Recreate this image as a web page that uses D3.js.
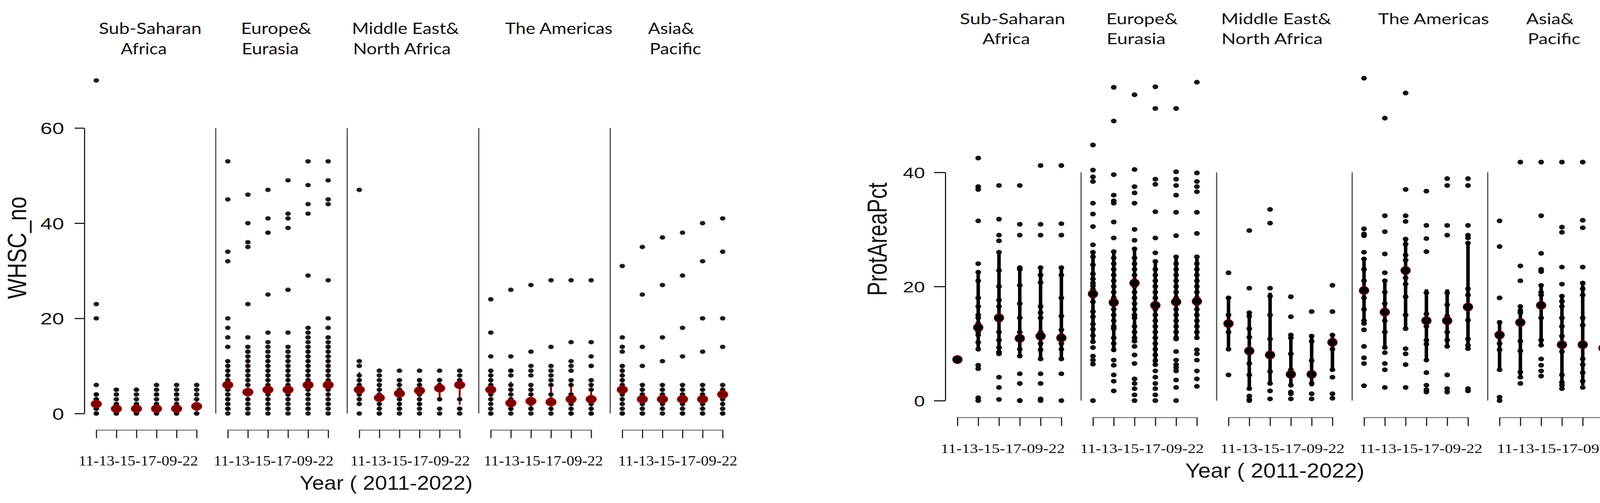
<!DOCTYPE html>
<html><head><meta charset="utf-8">
<script src="https://cdn.jsdelivr.net/npm/d3@7"></script>
<style>html,body{margin:0;padding:0;background:#fff;overflow:hidden;} svg{display:block;}</style>
</head><body>
<svg id="chart" width="4173" height="1287"></svg>
<script>
// ================= DATA =================
const regions = ["Sub-Saharan Africa", "Europe & Eurasia", "Middle East & North Africa", "The Americas", "Asia & Pacific"];
const regionLabelLines = [["Sub-Saharan", "Africa"], ["Europe&", "Eurasia"], ["Middle East&", "North Africa"], ["The Americas"], ["Asia&", "Pacific"]];
const yearCodes = ["11", "13", "15", "17", "09", "22"];
const yearTickLabel = yearCodes.join("-");
const xAxisTitle = "Year ( 2011-2022)";
const whscTitle = "WHSC_no";
const protTitle = "ProtAreaPct";
const whscTicks = [0, 20, 40, 60];
const protTicks = [0, 20, 40];

// WHSC_no : country values, per region, per year column
const whscSSA = [
  [70,23,20,6,4,4,3,3,2,2,2,1,1,1,1,0,0,0],
  [5,5,4,3,2,2,1,1,1,0,0,0],
  [5,5,4,3,2,2,1,1,1,0,0,0],
  [6,5,4,4,3,2,2,1,1,0,0],
  [6,5,4,4,3,2,1,1,0,0],
  [6,5,4,3,2,2,1,1,0,0]
];
const whscEUR = [
  [53,45,34,32,20,18,16,14,11,10,9,8,7,6,6,5,5,4,4,3,3,2,2,1,1,1,0],
  [46,40,36,35,23,16,14,13,13,12,11,10,9,8,7,6,5,4,4,3,2,1,1,1,0],
  [47,41,38,38,25,17,15,14,13,12,11,10,9,8,7,6,5,5,4,3,2,1,1,0],
  [49,42,41,39,26,17,14,13,12,11,10,9,8,7,6,5,5,4,3,2,1,1,0],
  [53,48,44,42,29,18,17,16,15,14,13,12,11,10,9,8,7,6,5,4,3,2,1,1,0],
  [53,49,45,44,28,20,18,16,15,14,13,12,11,10,9,8,7,6,5,4,3,2,2,1,0]
];
const whscMENA = [
  [47,11,10,8,7,6,5,4,3,2,0],
  [9,8,7,6,5,4,3,3,2,1,0,0],
  [9,7,6,5,4,3,2,1,1,0],
  [9,7,6,5,4,3,2,1,0],
  [9,7,6,5,3,1,0],
  [9,8,7,6,6,3,1,1,0]
];
const whscAM = [
  [24,17,12,9,8,7,6,5,4,3,2,1,0,0],
  [26,12,9,9,8,6,5,4,3,2,2,1,1,0],
  [27,13,10,9,8,6,5,4,3,2,1,1,0],
  [28,14,10,9,8,7,6,4,3,2,1,0],
  [28,15,11,10,9,7,6,4,3,2,1,0,0],
  [28,15,12,10,10,7,6,5,3,2,1,0,0]
];
const whscAP = [
  [31,16,14,13,10,9,8,7,6,5,4,3,2,1,0,0],
  [35,25,14,10,6,5,4,3,2,1,0,0],
  [37,27,16,11,6,5,4,3,2,1,0],
  [38,29,18,12,6,5,4,3,2,1,0,0],
  [40,32,20,13,6,5,4,3,2,1,0,0],
  [41,34,20,14,6,5,4,3,2,1,0,0]
];
const whscMean = [[2,1,1,1,1,1.5],[6,4.5,5,5,6,6],[5,3.3,4.2,4.8,5.3,6],[5,2.2,2.6,2.4,3,3],[5,3,3,3,3,4]];
const whscLow  = [[1.5,0,0,0,0,0],[3,2,2,2,3,3],[2,1,1.5,1.5,2.5,1.8],[2,0.5,0.5,0.5,0.5,0.5],[2,1,1,1,1,1.5]];
const whscHigh = [[4,2.3,2.3,2.5,2.5,3],[11,12,12,12,14,15],[8.7,6,7,7.5,7.5,7.5],[9,6.7,6,6.5,7,7],[10,6,6,6,6,6]];

// ProtAreaPct : country values, per region, per year column
const protSSA = [
  [7.2],
  [42.5,37.5,37,31.5,24,22.5,21,18,16.5,15,14.5,13.5,13,12.5,12,11.5,10.2,9,6.2,5.6,0.5,0],
  [37.7,31.8,29,28,26,22.8,20,17.6,16.5,14.5,14,12,10.6,9.3,8.5,8.2,4.1,2.3,0.2],
  [37.7,30.9,29,23.3,23,20.2,17,14.5,12,11,10.5,9,7.8,4.7,3,0,0],
  [41.2,30.9,29,23.3,22,20.7,16.5,15.4,14.5,12,11.3,10,8.9,7.3,4.7,3,0.3,0],
  [41.2,31,29,23.3,22,18,14.8,12.4,11,10,9,7.3,4.7,0]
];
const protEUR = [
  [44.8,40.4,39.2,38.4,34.6,32.7,30.5,27.3,26,25.2,23.8,22.2,21.3,20.6,20.1,19.5,18.8,18.2,17.3,15.6,14.7,13.4,12.5,11.4,10.3,9.3,7.8,7.1,6.4,0],
  [54.9,49,39.6,36,35,34.6,31.3,28.5,26.1,25,24,23,22,21,20,19,18,17.2,17,16,15,14,13,12.6,11,10,8.9,7.1,6.2,4.5,3.4,1.7],
  [53.6,40.5,37.5,36.4,34.6,30,28.1,26.6,25,24,23,22,21,20.6,20,19,18,17,16,15,14.5,13,12,11,10.4,9.5,8,6.5,3.8,3,2.1,1,0],
  [55,51.2,38.8,37.9,33.1,28.5,25.9,24.4,23,22,21,20,19,18,17,16.7,16,15,14,13,12,11,10,9,8,7,6.3,5.2,4.1,3,2.1,1,0],
  [51.2,40.1,38.8,37.7,36,33,28.9,25.2,24,23,22,21,20,19,18,17.3,16,15,14,13,12,11,10.8,8.6,7.1,6.3,5.8,5.2,3.6,2.3,0],
  [55.8,39.9,38.4,37.5,36.6,33,29.3,25.2,24,23,22,21,20,19,18,17.4,17,16,15,14,13,12,11,8.9,8.2,7.1,5.2,3.8,2.5]
];
const protMENA = [
  [22.4,18,15,13.5,12,9,4.5],
  [29.8,19.7,15.4,14.8,12.6,11.1,8.7,6.5,4.5,2.1,0.8,0.2,0],
  [33.5,31.1,19.7,18.3,15,10.8,8,5.1,3,1.7,0.3],
  [18.2,14.7,11.5,11,8.2,5.4,4.6,2.7,1.5,1.2,0.3],
  [15.6,11.3,10.4,7,4.6,3,1.2,0.3],
  [20.2,15.6,11.5,10.2,9,5.4,4.1,1.2,0.4]
];
const protAM = [
  [56.5,30.1,29.2,28.9,26,24.8,23,21,19.3,18,16,14,13.5,12.4,9.5,7.5,6.5,2.6],
  [49.5,32.4,29.6,25.7,22.4,21,19,17,15.5,14,12,9.3,8.4,6.5,5.4,2.3],
  [53.9,37,32.4,31.4,28.3,27.4,25.5,24.6,22.8,21.5,20.4,18.2,15,12.6,9.1,8.2,6.3,2.3],
  [36.7,30.7,28.4,26.1,18.9,15.2,14,13,10.6,9.9,7.1,4.9,2.7,1.9,1.5],
  [38.9,37.7,30.7,29,18.9,16.8,14.8,14,12,10.6,9.5,4.5,2.1,1.5],
  [38.9,37.7,30.7,29,28.5,27.6,19.6,18.5,16.4,14.1,10.8,9.7,9.1,2.1,1.7]
];
const protAP = [
  [31.5,27,18,13.7,11.3,10,8.9,5.4,0.6,0],
  [41.8,23.6,21,16.5,15.8,15.4,13.6,10.4,8.7,5,4.1,3],
  [41.8,32.4,25.8,23,22.6,20.2,19,18.5,16.6,14.5,10.6,9.7,7.3,6.2,5.2,4.3],
  [41.8,30.4,29.5,23.4,20.4,18.3,17.4,16.5,14.5,13,11.3,9.7,8.6,4.5,3.2,2.7,2.1],
  [41.8,31.6,30.3,23.4,20.6,19.6,18.5,14.5,13.2,9.7,7.3,6.3,4.9,3.4,2.3],
  [41.8,32,31.6,30.4,23.4,19.6,18.9,15,13,9.1,5.6,4.9,4.1,3.4,2.5,0]
];
const protMean = [[7.2,12.8,14.5,10.9,11.3,11],[18.7,17.2,20.6,16.7,17.3,17.4],[13.5,8.7,8,4.6,4.6,10.2],[19.3,15.5,22.8,14,14,16.4],[11.5,13.7,16.7,9.8,9.8,9.2]];
const protLow  = [[7.2,9.2,8.4,7.8,7.5,7.5],[10.5,8.5,10.3,6,10.6,10.9],[9.2,2,2.7,2.7,2.5,5.1],[13.5,9.3,12.7,7,9.3,10],[5.7,4.2,9.7,2.7,2.7,2.7]];
const protHigh = [[7.2,22.8,26,23.4,23.4,23.4],[26,26,26.8,24.4,25.2,25],[18.1,15.6,18.9,11.8,11.5,11.5],[25.2,21.3,28.5,19.5,19.5,27.8],[14.1,16.8,20.4,18.6,20.9,19.2]];

// ================= LAYOUT =================
const STRETCH = 1.3;   // the reference picture is horizontally stretched
const SANS = "'Liberation Sans', Arial, sans-serif";
const SERIF = "'Liberation Serif', 'Times New Roman', serif";
const LABEL = "Lato, 'Open Sans', sans-serif";

const leftCfg = {
  xFirst: 246.5, xLast: 1850, groupSlots: 6.55, sepSlot: 5.95,
  yBottom: 1058, yTop: 327.5, yMax: 60,
  axisX: 216, tickLen: 25, tickPad: 27, tickFont: 42,
  bracketY: 1100, bracketTick: 21,
  yearLabelCx: [354, 700.5, 1050, 1391, 1735], yearLabelY: 1191, yearLabelW: [306, 307, 306, 305, 305], yearFont: 36,
  titleX: 767, titleY: 1253, titleW: 443, titleFont: 50,
  yTitleX: 67, yTitleYc: 634, yTitleLen: 262, yTitleFont: 53,
  labelX: [[253, 309], [617, 619], [901, 904], [1293], [1659, 1663]],
  labelW: [[263, 118], [180, 146], [274, 250], [275], [118, 132]],
  labelY: [87, 139], labelFont: 40,
  dotRx: 7, dotRy: 5.6, meanRx: 13.5, meanRy: 10, barW: 5,
  dotFill: "#050505", dotStroke: "#808080", meanFill: "#780000", meanStroke: "#c00000", barColor: "#8b0000"
};
const rightCfg = {
  xFirst: 2451, xLast: 4105, groupSlots: 6.52, sepSlot: 5.95,
  yBottom: 1025, yTop: 441, yMax: 40,
  axisX: 2420, tickLen: 29, tickPad: 23, tickFont: 39,
  bracketY: 1068, bracketTick: 22,
  yearLabelCx: [2567, 2923.5, 3283, 3637.5, 3991], yearLabelY: 1159, yearLabelW: [318, 317, 318, 315, 318], yearFont: 33,
  titleX: 3034, titleY: 1222, titleW: 459, titleFont: 51,
  yTitleX: 2270, yTitleYc: 612, yTitleLen: 290, yTitleFont: 54,
  labelX: [[2457, 2515], [2832, 2833], [3126, 3127], [3528], [3907, 3911]],
  labelW: [[270, 122], [183, 151], [282, 259], [284], [122, 135]],
  labelY: [62, 113], labelFont: 38,
  dotRx: 6.8, dotRy: 5.6, meanRx: 12.5, meanRy: 10.5, barW: 9,
  dotFill: "#000", dotStroke: "#000", meanFill: "#000", meanStroke: "#9b0000", barColor: "#000"
};

const svg = d3.select("#chart");
svg.append("rect").attr("width", 4173).attr("height", 1287).attr("fill", "#fff");

function drawPanel(cfg, values, mean, low, high, ticks, yTitle) {
  const g = svg.append("g");
  const nYears = yearCodes.length;
  const slot = (gi, k) => gi * cfg.groupSlots + k;
  const x = d3.scaleLinear().domain([0, slot(regions.length - 1, nYears - 1)]).range([cfg.xFirst, cfg.xLast]);
  const y = d3.scaleLinear().domain([0, cfg.yMax]).range([cfg.yBottom, cfg.yTop]);
  const yMaxTick = d3.max(ticks);

  // group separators
  g.append("g").selectAll("line").data(d3.range(regions.length - 1)).join("line")
    .attr("x1", gi => x(slot(gi, cfg.sepSlot))).attr("x2", gi => x(slot(gi, cfg.sepSlot)))
    .attr("y1", y(0)).attr("y2", y(yMaxTick))
    .attr("stroke", "#555").attr("stroke-width", 3.2);

  // y axis
  const yScaleAxis = d3.scaleLinear().domain([0, yMaxTick]).range([y(0), y(yMaxTick)]);
  const ya = g.append("g").attr("transform", `translate(${cfg.axisX},0)`)
    .call(d3.axisLeft(yScaleAxis).tickValues(ticks).tickSize(cfg.tickLen).tickSizeOuter(0).tickPadding(cfg.tickPad));
  ya.select(".domain").attr("stroke", "#222").attr("stroke-width", 3);
  ya.selectAll(".tick line").attr("stroke", "#222").attr("stroke-width", 3);
  ya.selectAll(".tick text").attr("font-family", SANS).attr("font-size", cfg.tickFont).attr("fill", "#111")
    .attr("dy", "0.36em")
    .each(function () {
      const w = this.getComputedTextLength();
      d3.select(this).attr("textLength", w * STRETCH).attr("lengthAdjust", "spacingAndGlyphs");
    });

  // bracket axes under each region
  regions.forEach((r, gi) => {
    const sub = d3.scaleLinear().domain([slot(gi, 0), slot(gi, nYears - 1)])
      .range([x(slot(gi, 0)), x(slot(gi, nYears - 1))]);
    const ax = g.append("g").attr("transform", `translate(0,${cfg.bracketY})`)
      .call(d3.axisBottom(sub).tickValues(d3.range(nYears).map(k => slot(gi, k)))
        .tickFormat("").tickSize(cfg.bracketTick).tickSizeOuter(0));
    ax.select(".domain").attr("stroke", "#8a8a8a").attr("stroke-width", 3);
    ax.selectAll(".tick line").attr("stroke", "#222").attr("stroke-width", 3);
    g.append("text").text(yearTickLabel)
      .attr("x", cfg.yearLabelCx[gi]).attr("y", cfg.yearLabelY)
      .attr("text-anchor", "middle").attr("font-family", SERIF).attr("font-size", cfg.yearFont)
      .attr("textLength", cfg.yearLabelW[gi]).attr("lengthAdjust", "spacingAndGlyphs").attr("fill", "#111");
  });

  // region labels at top
  regionLabelLines.forEach((lines, gi) => {
    lines.forEach((line, li) => {
      g.append("text").text(line)
        .attr("x", cfg.labelX[gi][li]).attr("y", cfg.labelY[li])
        .attr("font-family", LABEL).attr("font-size", cfg.labelFont).attr("fill", "#111")
        .attr("textLength", cfg.labelW[gi][li]).attr("lengthAdjust", "spacingAndGlyphs");
    });
  });

  // titles
  g.append("text").text(xAxisTitle)
    .attr("x", cfg.titleX).attr("y", cfg.titleY)
    .attr("font-family", SANS).attr("font-size", cfg.titleFont).attr("fill", "#111")
    .attr("textLength", cfg.titleW).attr("lengthAdjust", "spacingAndGlyphs");
  g.append("text").text(yTitle)
    .attr("transform", `translate(${cfg.yTitleX},${cfg.yTitleYc}) scale(${STRETCH},1) rotate(-90)`)
    .attr("text-anchor", "middle")
    .attr("font-family", SANS).attr("font-size", cfg.yTitleFont).attr("fill", "#111")
    .attr("textLength", cfg.yTitleLen).attr("lengthAdjust", "spacingAndGlyphs");

  // marks
  const cells = [];
  values.forEach((region, gi) => region.forEach((vals, k) => cells.push({ gi, k, vals })));
  const marks = g.append("g");
  // error bars
  marks.append("g").selectAll("line").data(cells.filter(c => high[c.gi][c.k] > low[c.gi][c.k])).join("line")
    .attr("x1", c => x(slot(c.gi, c.k))).attr("x2", c => x(slot(c.gi, c.k)))
    .attr("y1", c => y(low[c.gi][c.k])).attr("y2", c => y(high[c.gi][c.k]))
    .attr("stroke", cfg.barColor).attr("stroke-width", cfg.barW);
  // individual country dots
  const pts = cells.flatMap(c => c.vals.map(v => ({ gi: c.gi, k: c.k, v })));
  marks.append("g").selectAll("ellipse").data(pts).join("ellipse")
    .attr("cx", p => x(slot(p.gi, p.k))).attr("cy", p => y(p.v))
    .attr("rx", cfg.dotRx).attr("ry", cfg.dotRy)
    .attr("fill", cfg.dotFill).attr("fill-opacity", 0.92)
    .attr("stroke", cfg.dotStroke).attr("stroke-width", 1.2).attr("stroke-opacity", 0.8);
  // means
  marks.append("g").selectAll("ellipse").data(cells).join("ellipse")
    .attr("cx", c => x(slot(c.gi, c.k))).attr("cy", c => y(mean[c.gi][c.k]))
    .attr("rx", cfg.meanRx).attr("ry", cfg.meanRy)
    .attr("fill", cfg.meanFill).attr("stroke", cfg.meanStroke).attr("stroke-width", 1.5);
}

drawPanel(leftCfg, [whscSSA, whscEUR, whscMENA, whscAM, whscAP], whscMean, whscLow, whscHigh, whscTicks, whscTitle);
drawPanel(rightCfg, [protSSA, protEUR, protMENA, protAM, protAP], protMean, protLow, protHigh, protTicks, protTitle);
</script>
</body></html>
